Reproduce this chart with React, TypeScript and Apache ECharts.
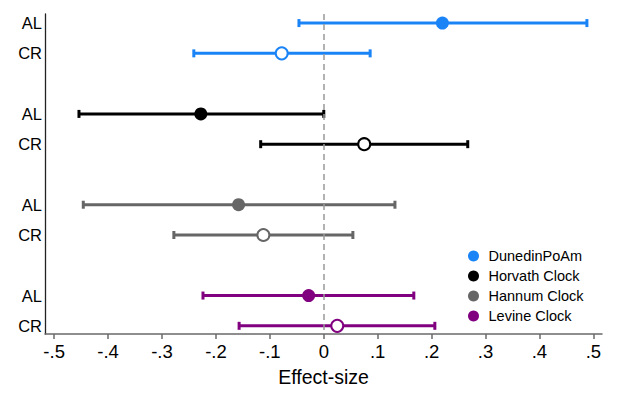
import React, { useEffect, useRef } from "react";
import * as echarts from "echarts";

const clocks = ["DunedinPoAm", "Horvath Clock", "Hannum Clock", "Levine Clock"];
const colors = ["#1a84f7", "#000000", "#666666", "#800080"];
const rowLabels = ["AL", "CR", "AL", "CR", "AL", "CR", "AL", "CR"];
const rowPositions = [0, 1, 3, 4, 6, 7, 9, 10];

// per clock: [AL, CR]
const estimates = [
  [0.22, -0.078],
  [-0.228, 0.075],
  [-0.158, -0.112],
  [-0.028, 0.025],
];
const lowers = [
  [-0.046, -0.241],
  [-0.454, -0.117],
  [-0.446, -0.278],
  [-0.224, -0.157],
];
const uppers = [
  [0.488, 0.086],
  [0.0, 0.267],
  [0.132, 0.054],
  [0.167, 0.206],
];

const tickValues = [-0.5, -0.4, -0.3, -0.2, -0.1, 0, 0.1, 0.2, 0.3, 0.4, 0.5];
const tickLabels = ["-.5", "-.4", "-.3", "-.2", "-.1", "0", ".1", ".2", ".3", ".4", ".5"];

const FONT = "'Liberation Sans', Arial, Helvetica, sans-serif";

export default function App() {
  const ref = useRef<HTMLDivElement>(null);

  useEffect(() => {
    document.body.style.margin = "0";
    const chart = echarts.init(ref.current!, null, { renderer: "svg" });

    const series: any[] = [];
    clocks.forEach((name, ci) => {
      const color = colors[ci];
      const barData = [0, 1].map((k) => [rowPositions[ci * 2 + k], lowers[ci][k], uppers[ci][k]]);
      series.push({
        type: "custom",
        name: name + " CI",
        data: barData,
        encode: { x: [1, 2], y: 0 },
        renderItem: (params: any, api: any) => {
          const y = api.value(0);
          const lo = api.coord([api.value(1), y]);
          const hi = api.coord([api.value(2), y]);
          const capH = 4;
          const st = { stroke: color, lineWidth: 3 };
          return {
            type: "group",
            children: [
              { type: "line", shape: { x1: lo[0], y1: lo[1], x2: hi[0], y2: hi[1] }, style: st },
              { type: "line", shape: { x1: lo[0], y1: lo[1] - capH, x2: lo[0], y2: lo[1] + capH }, style: st },
              { type: "line", shape: { x1: hi[0], y1: hi[1] - capH, x2: hi[0], y2: hi[1] + capH }, style: st },
            ],
          };
        },
        z: 2,
        ...(ci === 0
          ? {
              markLine: {
                silent: true,
                symbol: "none",
                label: { show: false },
                lineStyle: { color: "#999999", type: [6, 4], width: 1.5 },
                data: [{ xAxis: 0 }],
              },
            }
          : {}),
      });
      series.push({
        type: "scatter",
        name,
        symbol: "circle",
        symbolSize: 12,
        itemStyle: { color, opacity: 1 },
        z: 3,
        data: [0, 1].map((k) => ({
          value: [estimates[ci][k], rowPositions[ci * 2 + k]],
          itemStyle:
            k === 0
              ? { color, borderColor: color, borderWidth: 0, opacity: 1 }
              : { color: "#ffffff", borderColor: color, borderWidth: 2, opacity: 1 },
          symbolSize: k === 0 ? 13 : 12,
        })),
      });
    });

    chart.setOption({
      animation: false,
      textStyle: { fontFamily: FONT },
      grid: { left: 45, right: 15, top: 14, bottom: 77, containLabel: false },
      legend: {
        data: clocks.map((n, i) => ({ name: n, itemStyle: { color: colors[i], borderWidth: 0, opacity: 1 } })),
        orient: "vertical",
        left: 468,
        top: 248,
        padding: 0,
        itemWidth: 20,
        itemHeight: 11,
        itemGap: 4,
        icon: "circle",
        selectedMode: false,
        textStyle: { fontSize: 14.5, color: "#000", fontFamily: FONT, lineHeight: 16 },
      },
      xAxis: {
        type: "value",
        min: -0.517,
        max: 0.516,
        name: "Effect-size",
        nameLocation: "middle",
        nameGap: 33,
        nameTextStyle: { fontSize: 19.5, color: "#000", fontFamily: FONT },
        splitLine: { show: false },
        axisLine: { show: true, onZero: false, lineStyle: { color: "#6a6a6a", width: 1.5 } },
        axisTick: { show: true, length: 5, customValues: tickValues, lineStyle: { color: "#6a6a6a", width: 1.5 } },
        axisLabel: {
          customValues: tickValues,
          fontSize: 18.5,
          color: "#000",
          margin: 8,
          fontFamily: FONT,
          formatter: (v: number) => {
            const i = tickValues.findIndex((t) => Math.abs(t - v) < 1e-6);
            return i >= 0 ? tickLabels[i] : "";
          },
        },
      },
      yAxis: {
        type: "value",
        inverse: true,
        min: -0.3,
        max: 10.27,
        splitLine: { show: false },
        axisLine: { show: true, onZero: false, lineStyle: { color: "#222", width: 1.3 } },
        axisTick: { show: false },
        axisLabel: {
          customValues: rowPositions,
          fontSize: 16.5,
          color: "#000",
          margin: 3,
          fontFamily: FONT,
          formatter: (v: number) => {
            const i = rowPositions.findIndex((t) => Math.abs(t - v) < 1e-6);
            return i >= 0 ? rowLabels[i] : "";
          },
        },
      },
      series,
    });

    return () => chart.dispose();
  }, []);

  return <div ref={ref} style={{ width: 617, height: 411 }} />;
}
